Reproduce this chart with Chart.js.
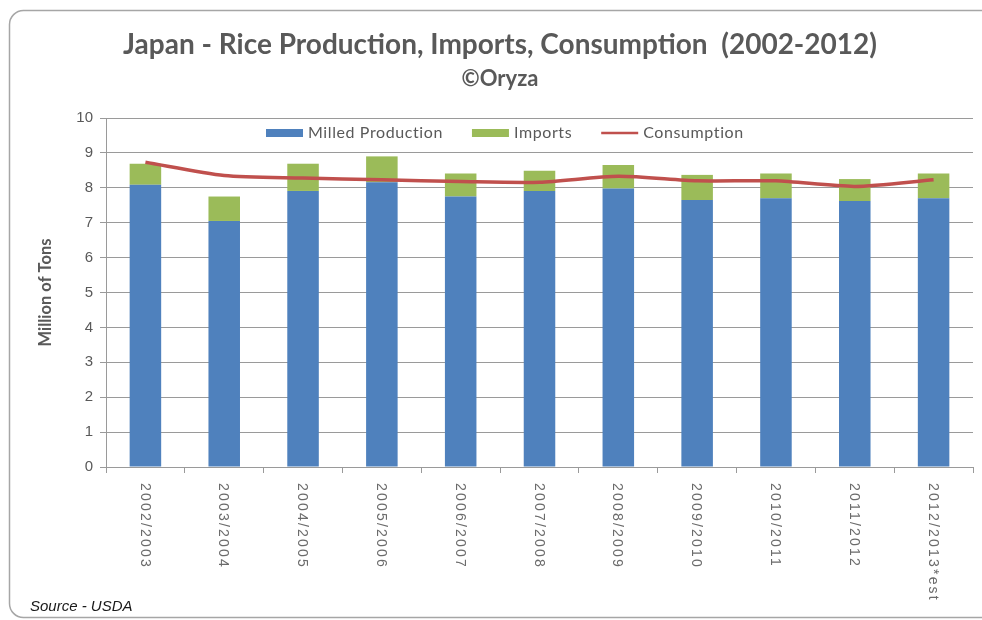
<!DOCTYPE html>
<html>
<head>
<meta charset="utf-8">
<script src="https://cdn.jsdelivr.net/npm/chart.js@4/dist/chart.umd.min.js"></script>
<style>
  html, body { margin: 0; padding: 0; background: #ffffff; }
  #wrap { width: 982px; height: 620px; position: relative; }
</style>
</head>
<body>
<div id="wrap"><canvas id="c" width="982" height="620"></canvas></div>
<script>
const categories = ['2002/2003','2003/2004','2004/2005','2005/2006','2006/2007','2007/2008','2008/2009','2009/2010','2010/2011','2011/2012','2012/2013*est'];
const milledProduction = [8.09, 7.05, 7.91, 8.16, 7.75, 7.91, 7.98, 7.65, 7.70, 7.62, 7.70];
const imports = [0.60, 0.70, 0.78, 0.74, 0.66, 0.58, 0.67, 0.72, 0.71, 0.63, 0.71];
const consumption = [8.73, 8.35, 8.28, 8.23, 8.18, 8.16, 8.33, 8.20, 8.20, 8.04, 8.23];
const yMin = 0, yMax = 10, yStep = 1;
const titleLine1 = 'Japan - Rice Production, Imports, Consumption  (2002-2012)';
const titleLine2 = '\u00A9Oryza';
const yTitle = 'Million of Tons';
const sourceText = 'Source - USDA';

const BLUE = '#4F81BD', GREEN = '#9BBB59', RED = '#C0504D';
const GRID = '#9a9a9a', TEXT = '#595959';
const UI_FONT = 'Lato, "Open Sans", sans-serif';

const decor = {
  id: 'decor',
  beforeDraw(chart) {
    const ctx = chart.ctx;
    ctx.save();
    ctx.fillStyle = '#ffffff';
    ctx.fillRect(0, 0, chart.width, chart.height);
    ctx.restore();
  },
  afterDraw(chart) {
    const ctx = chart.ctx;
    const xs = chart.scales.x;
    const ca = chart.chartArea;
    ctx.save();

    // outer rounded border
    ctx.strokeStyle = '#a6a6a6';
    ctx.lineWidth = 1.5;
    ctx.beginPath();
    ctx.roundRect(9.5, 10.5, 990, 607, 14);
    ctx.stroke();

    // title
    ctx.fillStyle = TEXT;
    ctx.textAlign = 'center';
    ctx.textBaseline = 'alphabetic';
    let fs = 100;
    ctx.font = 'bold ' + fs + 'px ' + UI_FONT;
    fs = Math.min(28, fs * 755 / ctx.measureText(titleLine1).width);
    ctx.font = 'bold ' + fs.toFixed(1) + 'px ' + UI_FONT;
    ctx.fillText(titleLine1, 500, 54);
    ctx.font = 'bold 22px ' + UI_FONT;
    ctx.fillText(titleLine2, 500, 86);

    // x labels, rotated clockwise
    ctx.fillStyle = '#6b6b6b';
    ctx.font = '14px "Liberation Sans", Arial, sans-serif';
    ctx.letterSpacing = '2.2px';
    ctx.textAlign = 'left';
    ctx.textBaseline = 'middle';
    xs.ticks.forEach((t, i) => {
      const x = xs.getPixelForTick(i);
      ctx.save();
      ctx.translate(x - 1, ca.bottom + 16);
      ctx.rotate(Math.PI / 2);
      ctx.fillText(chart.data.labels[i], 0, 0);
      ctx.restore();
    });
    ctx.letterSpacing = '0px';

    // legend inside plot
    const ly = ca.top + 15;
    let lx = 266;
    ctx.font = '16px ' + UI_FONT;
    ctx.textBaseline = 'middle';
    ctx.textAlign = 'left';
    [0, 1, 2].forEach(k => {
      const ds = chart.data.datasets[k];
      if (ds.type === 'line') {
        ctx.strokeStyle = ds.borderColor;
        ctx.lineWidth = 2.5;
        ctx.beginPath();
        ctx.moveTo(lx, ly);
        ctx.lineTo(lx + 37, ly);
        ctx.stroke();
      } else {
        ctx.fillStyle = ds.backgroundColor;
        ctx.fillRect(lx, ly - 4, 37, 8);
      }
      lx += 42;
      ctx.fillStyle = TEXT;
      ctx.letterSpacing = '0.6px';
      ctx.fillText(ds.label, lx, ly);
      lx += ctx.measureText(ds.label).width + 29;
      ctx.letterSpacing = '0px';
    });

    // source
    ctx.fillStyle = '#1a1a1a';
    ctx.font = 'italic 15px "Liberation Sans", Arial, sans-serif';
    ctx.textAlign = 'left';
    ctx.textBaseline = 'alphabetic';
    ctx.fillText(sourceText, 30, 611);

    ctx.restore();
  }
};

new Chart(document.getElementById('c'), {
  data: {
    labels: categories,
    datasets: [
      { type: 'bar', label: 'Milled Production', data: milledProduction, backgroundColor: BLUE, stack: 's', order: 2,
        barPercentage: 0.40, categoryPercentage: 1.0 },
      { type: 'bar', label: 'Imports', data: imports, backgroundColor: GREEN, stack: 's', order: 2,
        barPercentage: 0.40, categoryPercentage: 1.0 },
      { type: 'line', label: 'Consumption', data: consumption, borderColor: RED, backgroundColor: RED,
        borderWidth: 3.5, pointRadius: 0, tension: 0.25, order: 0 }
    ]
  },
  options: {
    responsive: false,
    animation: false,
    layout: { padding: { top: 118, right: 9, left: 0, bottom: 0 } },
    plugins: { legend: { display: false }, title: { display: false }, tooltip: { enabled: false } },
    scales: {
      x: {
        stacked: true,
        offset: true,
        ticks: { display: false },
        grid: { display: true, drawOnChartArea: false, drawTicks: true, tickLength: 6, offset: true, color: GRID },
        border: { display: true, color: GRID, width: 1 },
        afterFit(scale) { scale.height = 153; }
      },
      y: {
        stacked: true,
        min: yMin, max: yMax,
        ticks: { stepSize: yStep, padding: 7, color: TEXT, font: { family: '"Liberation Sans", Arial, sans-serif', size: 15 } },
        grid: { color: GRID, drawTicks: true, tickLength: 6 },
        border: { display: true, color: GRID, width: 1 },
        title: { display: true, text: yTitle, color: TEXT, font: { family: UI_FONT, size: 16.5, weight: 'bold' }, padding: { top: 36, bottom: 0 } },
        afterFit(scale) { scale.width = 106; }
      }
    }
  },
  plugins: [decor]
});
</script>
</body>
</html>
